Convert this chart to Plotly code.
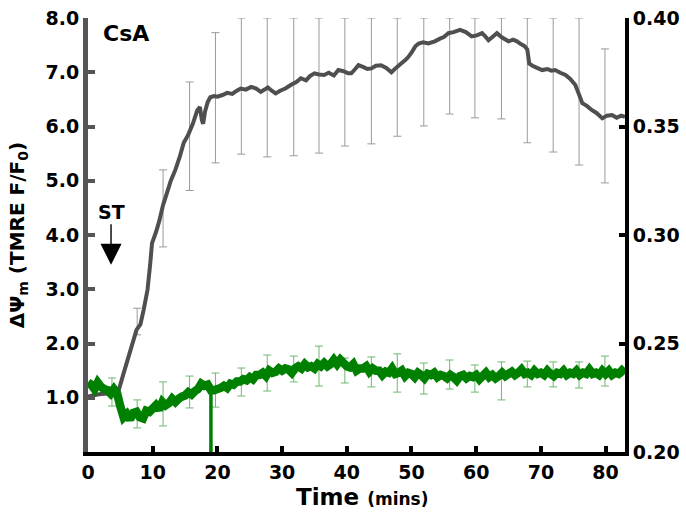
import numpy as np
import plotly.graph_objects as go

# ── data ────────────────────────────────────────────────────────────────────
# TMRE (grey trace, left axis)
tmre_t = [0, 1, 2, 3, 4, 4.7, 5.5, 6.5, 7.5, 8.1, 8.6, 9.2, 9.6, 9.9, 10.5, 11, 11.6, 12,
          12.8, 13.5, 14.2, 14.8, 15.5, 16.2, 16.9, 17.3, 17.6, 17.8, 18.1, 18.5, 18.9,
          19.5, 20, 20.8, 21.5, 22.3, 23, 23.6, 24.4, 25.2, 26, 26.7, 27.3, 27.8, 28.4,
          29, 29.7, 30.5, 31.4, 32.2, 32.9, 33.7, 34.3, 35, 35.7, 36.5, 37.2, 38, 38.7,
          39.5, 40.2, 40.7, 41.3, 41.8, 42.5, 43.2, 43.8, 44.5, 45.3, 46.1, 46.9, 47.6,
          48.4, 49, 49.5, 50.1, 50.6, 51.1, 51.8, 52.6, 53.6, 54.4, 55, 55.7, 56.5, 57.5,
          58.4, 59.3, 60.1, 60.9, 61.4, 61.9, 62.6, 63.2, 64, 65, 65.7, 66.3, 66.9, 67.5,
          67.9, 68.2, 68.7, 69.4, 70.2, 71, 71.6, 72.2, 73, 73.8, 74.5, 75.3, 75.8, 76.4,
          77.1, 77.9, 78.6, 79.5, 80.2, 81, 81.7, 82.4, 83]
tmre_v = [1.02, 1.05, 1.07, 1.08, 1.10, 1.12, 1.45, 1.85, 2.25, 2.35, 2.62, 2.99, 3.45,
          3.85, 4.05, 4.25, 4.55, 4.70, 5.0, 5.2, 5.45, 5.70, 5.85, 6.05, 6.30, 6.36, 6.12,
          6.05, 6.28, 6.45, 6.54, 6.56, 6.55, 6.58, 6.62, 6.60, 6.66, 6.70, 6.68, 6.73,
          6.70, 6.64, 6.68, 6.72, 6.66, 6.61, 6.66, 6.70, 6.77, 6.82, 6.89, 6.85, 6.93,
          6.98, 6.96, 6.95, 6.99, 6.94, 7.04, 7.02, 6.98, 6.98, 7.06, 7.13, 7.10, 7.06,
          7.07, 7.12, 7.13, 7.08, 7.00, 7.08, 7.16, 7.22, 7.28, 7.38, 7.48, 7.53, 7.55,
          7.53, 7.57, 7.62, 7.65, 7.72, 7.74, 7.78, 7.74, 7.66, 7.68, 7.72, 7.66, 7.59,
          7.66, 7.72, 7.64, 7.57, 7.60, 7.57, 7.52, 7.48, 7.42, 7.16, 7.12, 7.08, 7.04,
          7.06, 7.03, 7.04, 6.99, 6.95, 6.88, 6.77, 6.62, 6.43, 6.38, 6.30, 6.25, 6.15,
          6.20, 6.21, 6.16, 6.20, 6.18]

# error bar sample times (shared by both traces)
bar_t = [3.7, 7.6, 11.6, 15.7, 19.7, 23.7, 27.7, 31.8, 35.7, 39.7, 43.8, 47.8, 51.9,
         55.9, 59.8, 63.9, 67.9, 71.9, 75.9, 79.9]
tmre_bar_hi = [1.20, 2.65, 5.20, 6.82, 7.73, 8.0, 8.0, 8.0, 8.0, 8.0, 8.0, 8.0, 8.0,
               8.0, 8.0, 8.0, 8.0, 8.0, 8.0, 7.43]
tmre_bar_lo = [1.00, 2.16, 3.78, 4.82, 5.33, 5.49, 5.44, 5.46, 5.51, 5.64, 5.68, 5.82,
               6.01, 6.23, 6.16, 6.14, 5.70, 5.53, 5.29, 4.96]

# green trace (right axis), sampled every 0.5 min from 0 to 83
green_t = np.arange(0, 83.01, 0.5)
green_v = [0.232, 0.231, 0.229, 0.232, 0.230, 0.229, 0.2285, 0.227, 0.229, 0.227,
           0.221, 0.216, 0.2175, 0.215, 0.218, 0.2185, 0.216, 0.2155, 0.219, 0.2185,
           0.220, 0.2215, 0.2195, 0.223, 0.2215, 0.2225, 0.2245, 0.223, 0.2245, 0.2255,
           0.226, 0.2275, 0.2265, 0.228, 0.229, 0.2315, 0.2305, 0.231, 0.2285, 0.2285,
           0.229, 0.2295, 0.2305, 0.2295, 0.2315, 0.231, 0.2325, 0.2325, 0.2335, 0.233,
           0.2345, 0.2335, 0.2355, 0.2355, 0.2365, 0.235, 0.2375, 0.2365, 0.237, 0.2385,
           0.2375, 0.2385, 0.238, 0.2365, 0.2385, 0.2395, 0.2385, 0.2405, 0.239, 0.2395,
           0.2385, 0.2405, 0.2395, 0.241, 0.2395, 0.2405, 0.2425, 0.2405, 0.2425, 0.241,
           0.2395, 0.239, 0.2405, 0.2375, 0.2385, 0.2385, 0.2395, 0.237, 0.2385, 0.2375,
           0.2375, 0.2355, 0.237, 0.2365, 0.2385, 0.236, 0.2365, 0.2375, 0.235, 0.2365,
           0.236, 0.2345, 0.2365, 0.2355, 0.234, 0.236, 0.2355, 0.2365, 0.2345, 0.2355,
           0.235, 0.234, 0.2355, 0.2345, 0.233, 0.235, 0.2355, 0.234, 0.235, 0.2345,
           0.2355, 0.2335, 0.235, 0.2365, 0.2345, 0.2355, 0.234, 0.235, 0.2365, 0.235,
           0.236, 0.237, 0.2355, 0.2365, 0.238, 0.236, 0.2365, 0.2355, 0.2375, 0.236,
           0.2365, 0.2355, 0.2375, 0.236, 0.235, 0.2365, 0.236, 0.2375, 0.2355, 0.2365,
           0.236, 0.2375, 0.2355, 0.2365, 0.236, 0.238, 0.236, 0.2365, 0.2355, 0.2375,
           0.236, 0.2375, 0.2355, 0.2365, 0.236, 0.2375, 0.236]
green_spike_t = [19.0, 19.0]
green_spike_v = [0.229, 0.19]
green_bar_hi = [0.2341, 0.2240, 0.2323, 0.2350, 0.2364, 0.2387, 0.2447, 0.2442, 0.2488,
                0.2433, 0.2438, 0.2452, 0.2410, 0.2424, 0.2401, 0.2415, 0.2419, 0.2415,
                0.2415, 0.2442]
green_bar_lo = [0.2212, 0.2111, 0.2120, 0.2203, 0.2207, 0.2258, 0.2281, 0.2323, 0.2304,
                0.2318, 0.2300, 0.2276, 0.2267, 0.2290, 0.2276, 0.2240, 0.2300, 0.2300,
                0.2295, 0.2304]

x_ticks = [0, 10, 20, 30, 40, 50, 60, 70, 80]
left_ticks = [1, 2, 3, 4, 5, 6, 7, 8]
right_ticks = [0.20, 0.25, 0.30, 0.35, 0.40]

GREY = "#4f4f4f"
GREEN = "#008000"
FONT = "DejaVu Sans, Liberation Sans, Arial, sans-serif"


def _bar_mid_half(hi, lo):
    hi, lo = np.array(hi), np.array(lo)
    return (hi + lo) / 2, (hi - lo) / 2


fig = go.Figure()

# grey error bars + line (left axis)
mid, half = _bar_mid_half(tmre_bar_hi, tmre_bar_lo)
fig.add_trace(go.Scatter(
    x=bar_t, y=mid, mode="markers", marker=dict(size=0.1, opacity=0),
    error_y=dict(type="data", array=half, color="#9a9a9a", thickness=1, width=4),
    showlegend=False, hoverinfo="skip",
))
fig.add_trace(go.Scatter(
    x=tmre_t, y=tmre_v, mode="lines",
    line=dict(color=GREY, width=4, simplify=False), showlegend=False,
))

# green error bars + line (right axis)
mid, half = _bar_mid_half(green_bar_hi, green_bar_lo)
fig.add_trace(go.Scatter(
    x=bar_t, y=mid, yaxis="y2", mode="markers", marker=dict(size=0.1, opacity=0),
    error_y=dict(type="data", array=half, color="#6fb86f", thickness=1, width=4),
    showlegend=False, hoverinfo="skip",
))
fig.add_trace(go.Scatter(
    x=green_t, y=green_v, yaxis="y2", mode="lines",
    line=dict(color=GREEN, width=8.5, simplify=False), showlegend=False,
))
fig.add_trace(go.Scatter(
    x=green_spike_t, y=green_spike_v, yaxis="y2", mode="lines",
    line=dict(color=GREEN, width=3.5), showlegend=False,
))

tick_font = dict(family=FONT, size=19, color="black", weight="bold")

fig.update_layout(
    width=686, height=519,
    margin=dict(l=88, r=61, t=18, b=67),
    plot_bgcolor="white", paper_bgcolor="white",
    font=dict(family=FONT, color="black"),
    xaxis=dict(
        range=[0, 83], tickvals=x_ticks, ticks="inside", ticklen=6, tickwidth=4,
        tickcolor="black", showline=True, linecolor="black", linewidth=4,
        showgrid=False, zeroline=False, tickfont=tick_font, automargin=False,
    ),
    yaxis=dict(
        range=[0, 8], tickvals=left_ticks, tickformat=".1f", ticks="inside",
        ticklen=7, tickwidth=4, tickcolor="#555555", showline=True,
        linecolor="#555555", linewidth=5, showgrid=False, zeroline=False,
        tickfont=tick_font, automargin=False,
    ),
    yaxis2=dict(
        range=[0.2, 0.4], tickvals=right_ticks, tickformat=".2f", overlaying="y",
        side="right", ticks="inside", ticklen=6, tickwidth=4, tickcolor="black",
        showline=True, linecolor="black", linewidth=4, showgrid=False,
        zeroline=False, tickfont=tick_font, automargin=False,
    ),
    annotations=[
        dict(text="CsA", x=2.0, y=7.72, xref="x", yref="y", xanchor="left",
             showarrow=False, font=dict(family=FONT, size=22, weight="bold")),
        dict(text="ST", x=3.56, y=3.45, xref="x", yref="y", ax=0, ay=-53,
             showarrow=True, arrowhead=2, arrowsize=3, arrowwidth=1.4,
             arrowcolor="black", font=dict(family=FONT, size=19, weight="bold")),
        # axis titles placed as annotations to pin their position
        dict(text="Time <span style='font-size:17px'>(mins)</span>",
             x=0.51, y=-0.104, xref="paper", yref="paper", yanchor="middle",
             showarrow=False, font=dict(family=FONT, size=23, weight="bold")),
        dict(text="ΔΨ<sub>m</sub> (TMRE F/F<sub>0</sub>)", textangle=-90,
             x=-0.13, y=0.5, xref="paper", yref="paper", xanchor="center",
             yanchor="middle", showarrow=False,
             font=dict(family=FONT, size=20, weight="bold")),
    ],
)

# page body has a default 8px margin; drop it so the figure sits at (0, 0)
fig.write_html("out.html", config={"displayModeBar": False},
               post_script="document.body.style.margin='0';")
